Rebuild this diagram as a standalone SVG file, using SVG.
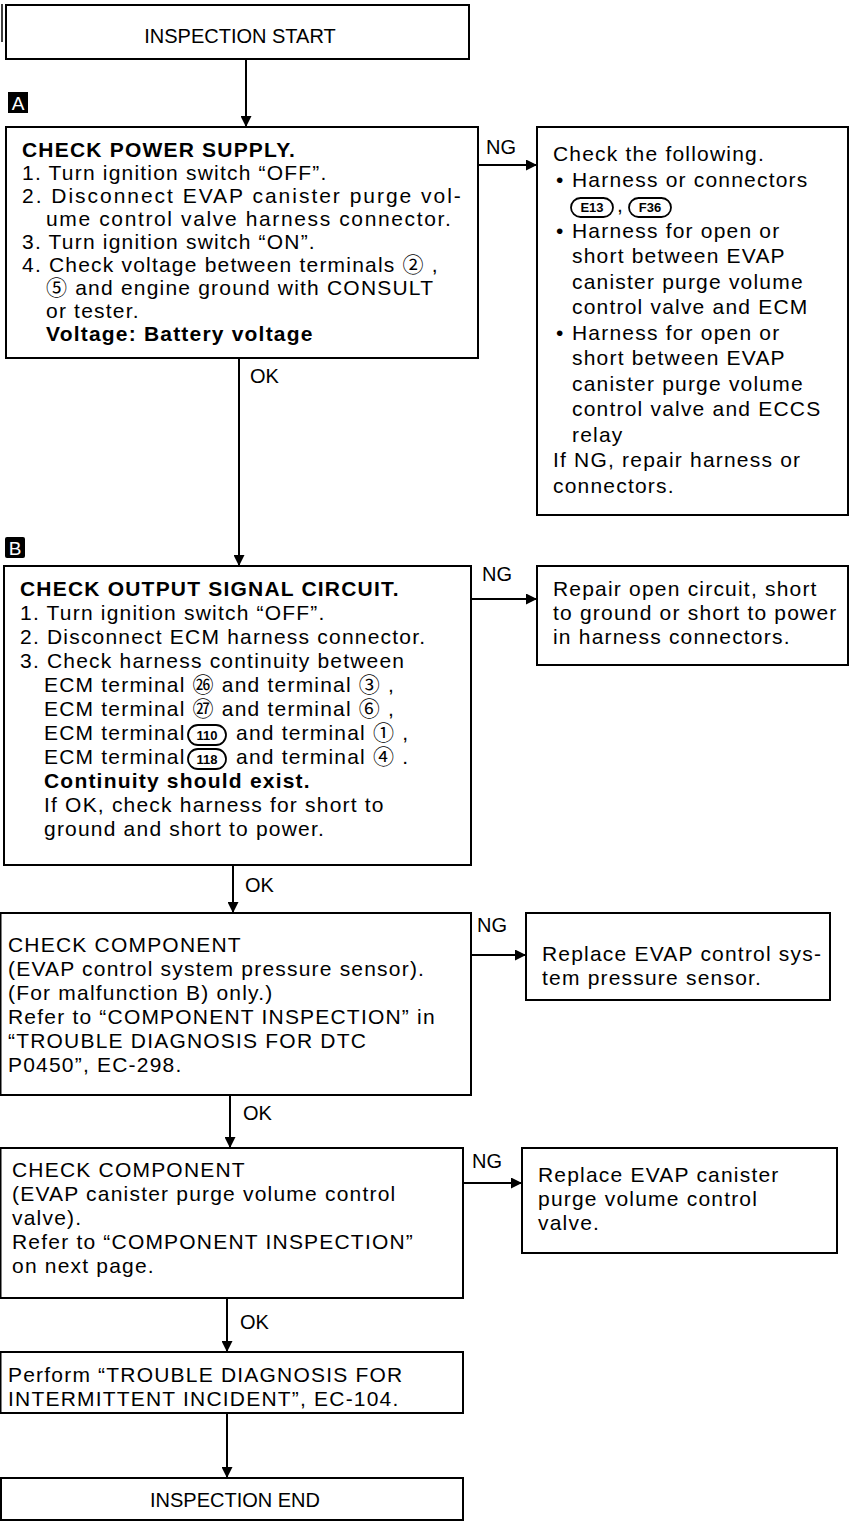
<svg xmlns="http://www.w3.org/2000/svg" width="855" height="1532" viewBox="0 0 855 1532">
<style>
.box{fill:#fff;stroke:#000;stroke-width:2}
.t{font-family:"Liberation Sans","Noto Sans CJK JP",sans-serif;font-size:21px;fill:#000;letter-spacing:1.2px}
.b{font-weight:bold}
.c{text-anchor:middle;letter-spacing:0}
.lbl{font-family:"Liberation Sans",sans-serif;font-size:20px;fill:#000}
.line{stroke:#000;stroke-width:2;fill:none}
.pill{fill:#fff;stroke:#000;stroke-width:1.8}
.pt{font-family:"Liberation Sans",sans-serif;font-size:13px;font-weight:bold;fill:#000;text-anchor:middle}
.badge{fill:#000}
.bt{font-family:"Liberation Sans",sans-serif;font-size:19px;fill:#fff;text-anchor:middle}
</style>
<defs>
<marker id="ah" viewBox="0 0 12 12" refX="12" refY="6" markerWidth="11" markerHeight="11" markerUnits="userSpaceOnUse" orient="auto">
<path d="M0,0 L12,6 L0,12 Z" fill="#000"/>
</marker>
</defs>

<line x1="2" y1="4" x2="2" y2="42" stroke="#000" stroke-width="1.5"/>

<g id="start">
<rect class="box" x="6" y="5" width="463" height="54"/>
<text class="t c" x="240" y="43" style="font-size:20px">INSPECTION START</text>
</g>

<g id="badgeA">
<rect class="badge" x="8" y="92" width="20" height="21"/>
<text class="bt" x="18" y="110">A</text>
</g>

<g id="checkPower">
<rect class="box" x="6" y="127" width="472" height="231"/>
<text class="t b" x="22" y="157">CHECK POWER SUPPLY.</text>
<text class="t" x="22" y="180">1. Turn ignition switch “OFF”.</text>
<text class="t" x="22" y="203" textLength="440">2. Disconnect EVAP canister purge vol-</text>
<text class="t" x="46" y="226" textLength="406">ume control valve harness connector.</text>
<text class="t" x="22" y="249">3. Turn ignition switch “ON”.</text>
<text class="t" x="22" y="272">4. Check voltage between terminals ② ,</text>
<text class="t" x="46" y="295">⑤ and engine ground with CONSULT</text>
<text class="t" x="46" y="318">or tester.</text>
<text class="t b" x="46" y="341">Voltage: Battery voltage</text>
</g>

<g id="ngA">
<rect class="box" x="537" y="127" width="311" height="388"/>
<text class="t" x="553" y="161">Check the following.</text>
<text class="t" x="556" y="186.5">•</text>
<text class="t" x="572" y="186.5">Harness or connectors</text>
<rect class="pill" x="571" y="198" width="42" height="19" rx="9.5"/>
<text class="pt" x="592" y="212">E13</text>
<text class="t" x="617" y="212">,</text>
<rect class="pill" x="629" y="198" width="42" height="19" rx="9.5"/>
<text class="pt" x="650" y="212">F36</text>
<text class="t" x="556" y="237.5">•</text>
<text class="t" x="572" y="237.5">Harness for open or</text>
<text class="t" x="572" y="263">short between EVAP</text>
<text class="t" x="572" y="288.5">canister purge volume</text>
<text class="t" x="572" y="314">control valve and ECM</text>
<text class="t" x="556" y="339.5">•</text>
<text class="t" x="572" y="339.5">Harness for open or</text>
<text class="t" x="572" y="365">short between EVAP</text>
<text class="t" x="572" y="390.5">canister purge volume</text>
<text class="t" x="572" y="416">control valve and ECCS</text>
<text class="t" x="572" y="441.5">relay</text>
<text class="t" x="553" y="467">If NG, repair harness or</text>
<text class="t" x="553" y="492.5">connectors.</text>
</g>

<g id="badgeB">
<rect class="badge" x="5" y="537" width="20" height="21" rx="2"/>
<text class="bt" x="15" y="555">B</text>
</g>

<g id="checkOutput">
<rect class="box" x="4" y="566" width="467" height="299"/>
<text class="t b" x="20" y="596">CHECK OUTPUT SIGNAL CIRCUIT.</text>
<text class="t" x="20" y="620">1. Turn ignition switch “OFF”.</text>
<text class="t" x="20" y="644">2. Disconnect ECM harness connector.</text>
<text class="t" x="20" y="668">3. Check harness continuity between</text>
<text class="t" x="44" y="692">ECM terminal ㉖ and terminal ③ ,</text>
<text class="t" x="44" y="716">ECM terminal ㉗ and terminal ⑥ ,</text>
<text class="t" x="44" y="740">ECM terminal</text>
<rect class="pill" x="188" y="725" width="38" height="20" rx="10"/>
<text class="pt" x="207" y="740">110</text>
<text class="t" x="236" y="740">and terminal ① ,</text>
<text class="t" x="44" y="764">ECM terminal</text>
<rect class="pill" x="188" y="749" width="38" height="20" rx="10"/>
<text class="pt" x="207" y="764">118</text>
<text class="t" x="236" y="764">and terminal ④ .</text>
<text class="t b" x="44" y="788">Continuity should exist.</text>
<text class="t" x="44" y="812">If OK, check harness for short to</text>
<text class="t" x="44" y="836">ground and short to power.</text>
</g>

<g id="ngB">
<rect class="box" x="537" y="566" width="311" height="99"/>
<text class="t" x="553" y="596">Repair open circuit, short</text>
<text class="t" x="553" y="620">to ground or short to power</text>
<text class="t" x="553" y="644">in harness connectors.</text>
</g>

<g id="checkSensor">
<rect class="box" x="0.5" y="913" width="470.5" height="182"/>
<text class="t" x="8" y="952">CHECK COMPONENT</text>
<text class="t" x="8" y="976">(EVAP control system pressure sensor).</text>
<text class="t" x="8" y="1000">(For malfunction B) only.)</text>
<text class="t" x="8" y="1024">Refer to “COMPONENT INSPECTION” in</text>
<text class="t" x="8" y="1048">“TROUBLE DIAGNOSIS FOR DTC</text>
<text class="t" x="8" y="1072">P0450”, EC-298.</text>
</g>

<g id="ngC">
<rect class="box" x="526" y="913" width="304" height="87"/>
<text class="t" x="542" y="961">Replace EVAP control sys-</text>
<text class="t" x="542" y="985">tem pressure sensor.</text>
</g>

<g id="checkValve">
<rect class="box" x="0.5" y="1148" width="462.5" height="150"/>
<text class="t" x="12" y="1177">CHECK COMPONENT</text>
<text class="t" x="12" y="1201">(EVAP canister purge volume control</text>
<text class="t" x="12" y="1225">valve).</text>
<text class="t" x="12" y="1249">Refer to “COMPONENT INSPECTION”</text>
<text class="t" x="12" y="1273">on next page.</text>
</g>

<g id="ngD">
<rect class="box" x="522" y="1148" width="315" height="105"/>
<text class="t" x="538" y="1182">Replace EVAP canister</text>
<text class="t" x="538" y="1206">purge volume control</text>
<text class="t" x="538" y="1230">valve.</text>
</g>

<g id="perform">
<rect class="box" x="0.5" y="1352" width="462.5" height="61"/>
<text class="t" x="8" y="1382">Perform “TROUBLE DIAGNOSIS FOR</text>
<text class="t" x="8" y="1406">INTERMITTENT INCIDENT”, EC-104.</text>
</g>

<g id="end">
<rect class="box" x="1" y="1478" width="462" height="42"/>
<text class="t c" x="235" y="1507" style="font-size:20px">INSPECTION END</text>
</g>

<g id="connectors">
<line class="line" x1="246" y1="59" x2="246" y2="127" marker-end="url(#ah)"/>
<line class="line" x1="478" y1="165" x2="537" y2="165" marker-end="url(#ah)"/>
<text class="lbl" x="486" y="154">NG</text>
<line class="line" x1="239" y1="358" x2="239" y2="566" marker-end="url(#ah)"/>
<text class="lbl" x="250" y="383">OK</text>
<line class="line" x1="471" y1="599" x2="537" y2="599" marker-end="url(#ah)"/>
<text class="lbl" x="482" y="581">NG</text>
<line class="line" x1="233" y1="865" x2="233" y2="913" marker-end="url(#ah)"/>
<text class="lbl" x="245" y="892">OK</text>
<line class="line" x1="471" y1="955" x2="526" y2="955" marker-end="url(#ah)"/>
<text class="lbl" x="477" y="932">NG</text>
<line class="line" x1="230" y1="1095" x2="230" y2="1148" marker-end="url(#ah)"/>
<text class="lbl" x="243" y="1120">OK</text>
<line class="line" x1="463" y1="1183" x2="522" y2="1183" marker-end="url(#ah)"/>
<text class="lbl" x="472" y="1168">NG</text>
<line class="line" x1="227" y1="1298" x2="227" y2="1352" marker-end="url(#ah)"/>
<text class="lbl" x="240" y="1329">OK</text>
<line class="line" x1="227" y1="1413" x2="227" y2="1478" marker-end="url(#ah)"/>
</g>
</svg>
